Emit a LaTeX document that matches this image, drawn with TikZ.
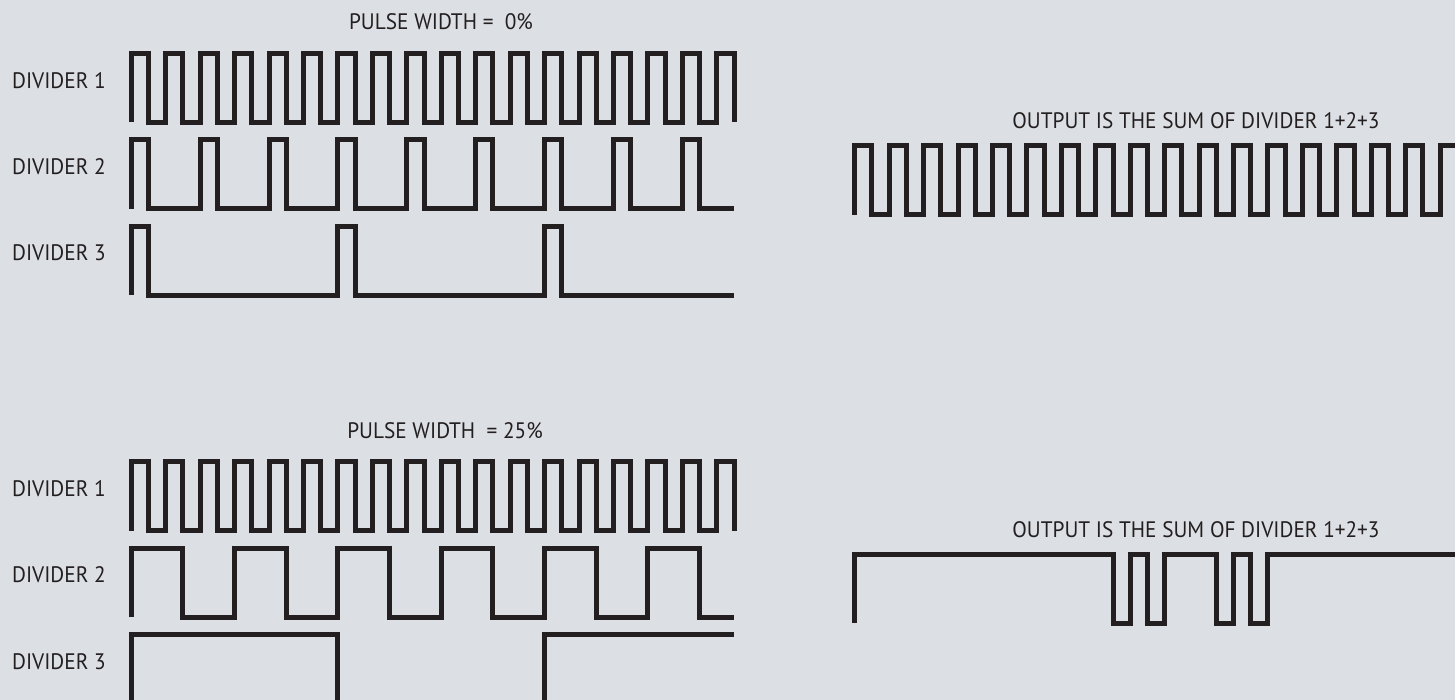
\documentclass[tikz,border=0pt]{standalone}
\usepackage{fontspec}
\setmainfont{PT Sans}[FakeStretch=0.95]
\usepackage{tikz}
\usetikzlibrary{positioning}
\definecolor{bgray}{RGB}{220,223,227}
\definecolor{ink}{RGB}{35,31,32}

\begin{document}
\begin{tikzpicture}[x=0.5pt,y=-0.5pt,font=\fontsize{11.2}{13}\selectfont]
\tikzset{
  wave/.style={ink,line width=2.5pt},
  lbl/.style={ink,anchor=base west,inner sep=0pt},
  ttl/.style={ink,anchor=base,inner sep=0pt}
}
\def\amp{69}
% helper for one pulse train, x counted in clock periods
\newcommand{\pulsetrain}[5]{% args: high level, period, high time, last pulse, extra path
  \draw[wave] (0,{#1+\amp}) -- (0,#1) -- (#3,#1) -- (#3,{#1+\amp})
  \foreach \k in {1,...,#4}{
    -- ({\k*#2},{#1+\amp}) -- ({\k*#2},#1) -- ({\k*#2+#3},#1) -- ({\k*#2+#3},{#1+\amp})
  } #5;
}

\useasboundingbox (0,0) rectangle (1455,700);
\fill[bgray] (0,0) rectangle (1455,700);
\clip (0,0) rectangle (1455,700);

% ------ pulse width 0% ------
\node[ttl] (pw0) at (441,30) {PULSE WIDTH =\ \ 0\%};
\node[lbl] (div1a) at (11.7,88.3) {DIVIDER 1};
\node[lbl] (div2a) at (11.7,174.5) {DIVIDER 2};
\node[lbl] (div3a) at (11.7,261) {DIVIDER 3};
\begin{scope}[shift={(131.3,0)},x=17.22pt]
  \pulsetrain{53.5}{1}{0.5}{17}{}
  \pulsetrain{139.8}{2}{0.5}{8}{-- ++(1,0)}
  \pulsetrain{226.1}{6}{0.5}{2}{-- ++(5,0)}
\end{scope}

% output 1+2+3
\node[ttl] (out0) at (1196,129) {OUTPUT IS THE SUM OF DIVIDER 1+2+3};
\begin{scope}[shift={(854.7,0)},x=17.22pt]
  \pulsetrain{146}{1}{0.5}{17}{}
\end{scope}

% ------ pulse width 25% ------
\node[ttl] (pw25) at (445,438) {PULSE WIDTH\ \ = 25\%};
\node[lbl] (div1b) at (11.7,496) {DIVIDER 1};
\node[lbl] (div2b) at (11.7,582.3) {DIVIDER 2};
\node[lbl] (div3b) at (11.7,669.3) {DIVIDER 3};
\begin{scope}[shift={(131.3,0)},x=17.22pt]
  \pulsetrain{461.8}{1}{0.5}{17}{}
  \pulsetrain{548.1}{3}{1.5}{5}{-- ++(1,0)}
  \draw[wave] (0,634.4+\amp) -- (0,634.4) -- (6,634.4) -- (6,634.4+\amp)
    -- (12,634.4+\amp) -- (12,634.4) -- (17.5,634.4);
\end{scope}

% output 1+2+3
\node[ttl] (out25) at (1196,537) {OUTPUT IS THE SUM OF DIVIDER 1+2+3};
\begin{scope}[shift={(854.7,0)},x=17.22pt]
  \draw[wave] (0,554+\amp) -- (0,554)
    \foreach \a/\b in {7.5/8,8.5/9,10.5/11,11.5/12}{
      -- (\a,554) -- (\a,554+\amp) -- (\b,554+\amp) -- (\b,554)
    } -- (17.5,554);
\end{scope}
\end{tikzpicture}
\end{document}
